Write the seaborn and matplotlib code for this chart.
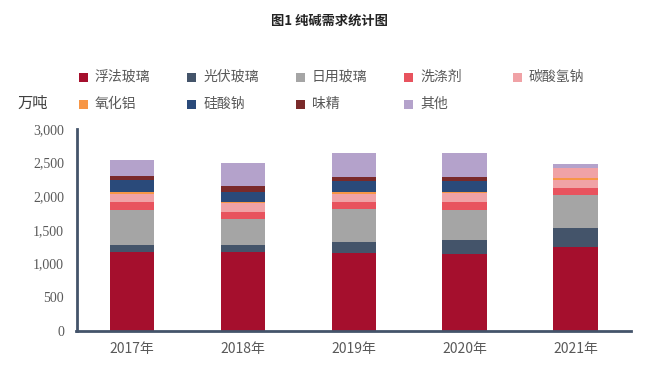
import numpy as np
import pandas as pd
import seaborn as sns
import matplotlib.pyplot as plt
from matplotlib.patches import Rectangle
from matplotlib.ticker import FuncFormatter, MultipleLocator, FixedLocator

# 纯碱需求 (万吨)
years = ["2017年", "2018年", "2019年", "2020年", "2021年"]
series = ["浮法玻璃", "光伏玻璃", "日用玻璃", "洗涤剂", "碳酸氢钠",
          "氧化铝", "硅酸钠", "味精", "其他"]
fufa = [1173, 1173, 1158, 1143, 1252]
guangfu = [100, 100, 168, 213, 273]
riyong = [524, 390, 481, 441, 490]
xidi = [123, 109, 104, 114, 113]
tansuan = [114, 133, 128, 138, 115]
yanghualv = [30, 15, 21, 20, 25]
guisuan = [174, 149, 163, 154, 148]
weijing = [68, 84, 68, 68, 0]
qita = [233, 347, 348, 348, 64]

colors = ["#A50F2D", "#44546A", "#A5A5A5", "#E8535E", "#F0A2A6",
          "#F79646", "#2A4A7A", "#7A2A2A", "#B4A2CB"]

df = pd.DataFrame({"year": years, "浮法玻璃": fufa, "光伏玻璃": guangfu,
                   "日用玻璃": riyong, "洗涤剂": xidi, "碳酸氢钠": tansuan,
                   "氧化铝": yanghualv, "硅酸钠": guisuan, "味精": weijing,
                   "其他": qita})

sns.set_style("white")
plt.rcParams['font.family'] = ['Noto Sans CJK SC', 'DejaVu Sans']

fig = plt.figure(figsize=(6.54, 3.77), dpi=100)
ax = fig.add_axes([76.5 / 654, 1 - 331 / 377, (631 - 76.5) / 654, (331 - 129) / 377])

bottom = np.zeros(len(years))
for name, c in zip(series, colors):
    sns.barplot(data=df, x="year", y=name, order=years, color=c, width=0.4,
                bottom=bottom, linewidth=0, saturation=1, ax=ax)
    bottom = bottom + df[name].values

# 2021年 upper segment is shown in the light pink colour in the original
ax.containers[6].patches[4].set_facecolor(colors[4])

spine_c = "#44546A"
ax.set_xlim(-0.5, 4.5)
ax.set_ylim(0, 3000)
ax.set_xlabel("")
ax.set_ylabel("")
sns.despine(ax=ax)
for s in ["left", "bottom"]:
    ax.spines[s].set_color(spine_c)
    ax.spines[s].set_linewidth(2)

ax.yaxis.set_major_locator(MultipleLocator(500))
ax.yaxis.set_major_formatter(FuncFormatter(lambda v, p: f"{int(v):,}"))
ax.tick_params(axis="y", direction="in", length=5, width=1.5, color=spine_c,
               labelcolor="#595959", labelsize=10, pad=9)
for t in ax.get_yticklabels():
    t.set_fontfamily("Liberation Serif")

ax.xaxis.set_minor_locator(FixedLocator([0.5, 1.5, 2.5, 3.5, 4.5]))
ax.tick_params(axis="x", which="major", length=0, labelcolor="#595959",
               labelsize=10, pad=8)
ax.tick_params(axis="x", which="minor", direction="in", length=5, width=1.5,
               color=spine_c)

# legend drawn as two rows of five
for i, (name, c) in enumerate(zip(series, colors)):
    col, row = i % 5, i // 5
    x0 = 78.6 + 108.5 * col
    yc = 77 + 27 * row
    fig.patches.append(Rectangle((x0 / 654, 1 - (yc + 4.5) / 377), 9 / 654, 9 / 377,
                                 transform=fig.transFigure, facecolor=c,
                                 edgecolor="none"))
    fig.text((x0 + 16) / 654, 1 - yc / 377, name, fontsize=10, color="#595959",
             ha="left", va="center")

fig.text(0.503, 1 - 21 / 377, "图1 纯碱需求统计图", fontsize=9.5,
         fontweight="bold", ha="center", va="center", color="#222222")
fig.text(17 / 654, 1 - 103 / 377, "万吨", fontsize=11, color="#404040",
         ha="left", va="center")

fig.savefig("out.png", dpi=100)
